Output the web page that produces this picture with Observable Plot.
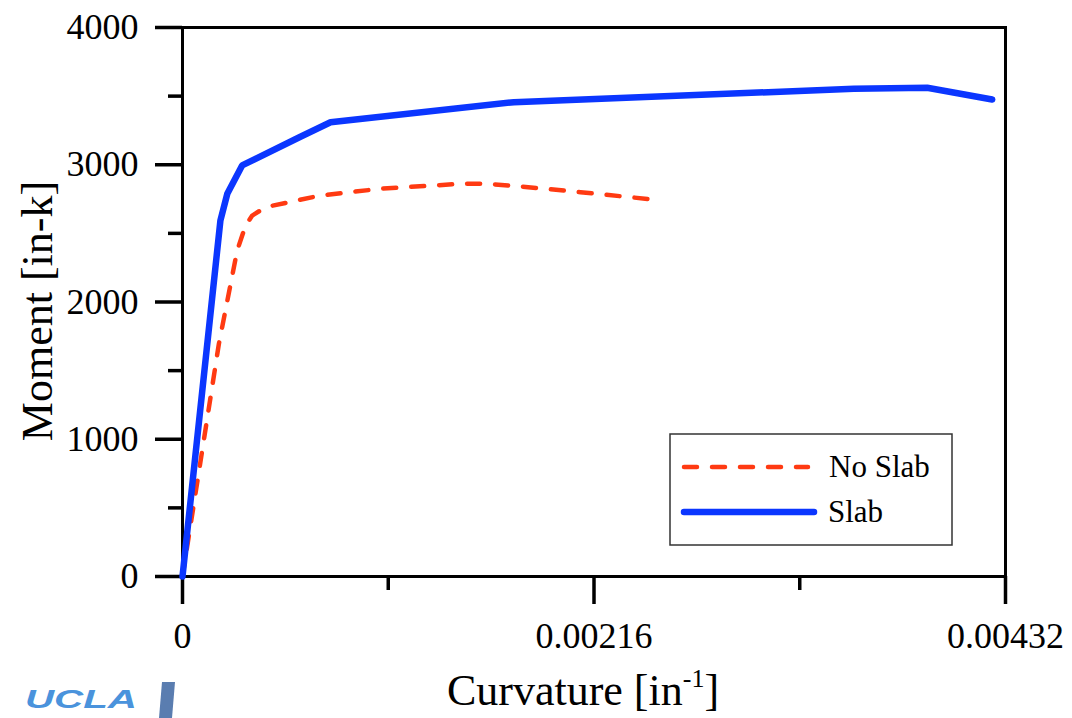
<!DOCTYPE html>
<html>
<head>
<meta charset="utf-8">
<script src="https://cdn.jsdelivr.net/npm/d3@7"></script>
<script src="https://cdn.jsdelivr.net/npm/@observablehq/plot@0.6"></script>
<style>
  html, body { margin: 0; padding: 0; background: #fff; }
  #chart svg { display: block; }
</style>
</head>
<body>
<div id="chart"></div>
<script>
// ---- Data ----
const slabCurvature   = [0, 0.000199, 0.000235, 0.000313, 0.000619, 0.000777, 0.001739, 0.003524, 0.003909, 0.004250];
const slabMoment      = [0, 2594,     2788,     2995,     3204,     3310,     3456,     3553,     3561,     3475];
const noSlabCurvature = [0, 0.000191, 0.000287, 0.000331, 0.000366, 0.000436, 0.000724, 0.001039, 0.001459, 0.001599, 0.001774, 0.002089, 0.002483];
const noSlabMoment    = [0, 1695,     2375,     2557,     2630,     2691,     2776,     2825,     2861,     2861,     2842,     2800,     2745];

const yMajorTicks = [0, 1000, 2000, 3000, 4000];
const yMinorTicks = [500, 1500, 2500, 3500];
const xMajorTicks = [0, 0.00216, 0.00432];
const xTickLabels = ["0", "0.00216", "0.00432"];
const xMinorTicks = [0.00108, 0.00324];

const seriesNames = ["No Slab", "Slab"];
const seriesColors = ["#ff3a12", "#0b36ff"];

const slab = slabCurvature.map((c, i) => ({curv: c, moment: slabMoment[i]}));
const noSlab = noSlabCurvature.map((c, i) => ({curv: c, moment: noSlabMoment[i]}));

const fontSerif = "'Liberation Serif', 'DejaVu Serif', serif";

const svg = Plot.plot({
  width: 1072,
  height: 718,
  marginLeft: 182,
  marginRight: 67,
  marginTop: 27,
  marginBottom: 142,
  style: {fontFamily: fontSerif, fontSize: "36px", background: "#fff", color: "#000"},
  x: {domain: [0, 0.00432]},
  y: {domain: [0, 4000]},
  marks: [
    Plot.axisY(yMajorTicks, {tickSize: 27, tickPadding: 17, strokeWidth: 3.5, fontSize: 36, label: null, tickFormat: d => String(d)}),
    Plot.axisY(yMinorTicks, {tickSize: 14, strokeWidth: 3.5, label: null, tickFormat: () => ""}),
    Plot.axisX(xMajorTicks, {tickSize: 28, tickPadding: 18, strokeWidth: 3.5, fontSize: 36, label: null, tickFormat: (d, i) => xTickLabels[i]}),
    Plot.axisX(xMinorTicks, {tickSize: 14, strokeWidth: 3.5, label: null, tickFormat: () => ""}),
    Plot.frame({stroke: "#000", strokeWidth: 3}),
    Plot.line(noSlab, {x: "curv", y: "moment", stroke: seriesColors[0], strokeWidth: 4.5, strokeDasharray: "13,15", strokeLinecap: "round", strokeLinejoin: "round"}),
    Plot.line(slab, {x: "curv", y: "moment", stroke: seriesColors[1], strokeWidth: 6.5, strokeLinecap: "round", strokeLinejoin: "miter"})
  ]
});

document.getElementById("chart").appendChild(svg);

const s = d3.select(svg);

// Axis titles
s.append("text")
  .attr("transform", "translate(52,311) rotate(-90)")
  .attr("text-anchor", "middle")
  .attr("font-family", fontSerif)
  .attr("font-size", 44)
  .attr("fill", "#000")
  .text("Moment [in-k]");

const xt = s.append("text")
  .attr("x", 583).attr("y", 705)
  .attr("text-anchor", "middle")
  .attr("font-family", fontSerif)
  .attr("font-size", 44)
  .attr("fill", "#000");
xt.append("tspan").text("Curvature [in");
xt.append("tspan").attr("font-size", 26).attr("dy", -18).text("-1");
xt.append("tspan").attr("dy", 18).text("]");

// Legend
const lg = s.append("g").attr("text-anchor", "start");
lg.append("rect").attr("x", 670).attr("y", 434).attr("width", 282).attr("height", 111)
  .attr("fill", "#fff").attr("stroke", "#333").attr("stroke-width", 1.5);
lg.append("line").attr("x1", 684).attr("x2", 808).attr("y1", 467).attr("y2", 467)
  .attr("stroke", seriesColors[0]).attr("stroke-width", 4.5)
  .attr("stroke-dasharray", "13,15").attr("stroke-linecap", "round");
lg.append("line").attr("x1", 684).attr("x2", 814).attr("y1", 512).attr("y2", 512)
  .attr("stroke", seriesColors[1]).attr("stroke-width", 6.5).attr("stroke-linecap", "round");
lg.append("text").attr("x", 829).attr("y", 477).attr("text-anchor", "start").attr("font-family", fontSerif)
  .attr("font-size", 31).attr("fill", "#000").text(seriesNames[0]);
lg.append("text").attr("x", 828).attr("y", 522).attr("text-anchor", "start").attr("font-family", fontSerif)
  .attr("font-size", 31).attr("fill", "#000").text(seriesNames[1]);

// UCLA logo
s.append("text").attr("x", 25).attr("y", 708)
  .attr("text-anchor", "start")
  .attr("font-family", "'Liberation Sans', Arial, sans-serif")
  .attr("font-weight", "bold").attr("font-style", "italic")
  .attr("font-size", 25).attr("fill", "#4a93dc")
  .attr("textLength", 112).attr("lengthAdjust", "spacingAndGlyphs")
  .text("UCLA");
s.append("polygon").attr("points", "162,682 175,682 172,718 159,718").attr("fill", "#5a7db0");
</script>
</body>
</html>
